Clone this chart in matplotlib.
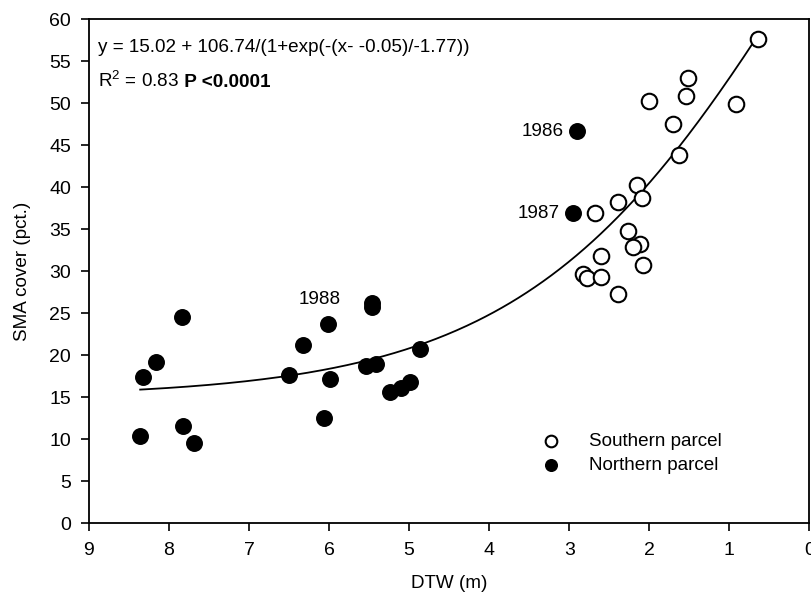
import numpy as np
import matplotlib
matplotlib.use("Agg")
import matplotlib.pyplot as plt

plt.rcParams['font.family'] = ['Liberation Sans', 'DejaVu Sans']
plt.rcParams['mathtext.fontset'] = 'custom'
plt.rcParams['mathtext.rm'] = 'Liberation Sans'
plt.rcParams['mathtext.it'] = 'Liberation Sans:italic'
plt.rcParams['mathtext.bf'] = 'Liberation Sans:bold'

# Southern parcel (open circles)
south_x = [0.64, 1.52, 1.54, 2.00, 0.92, 1.70, 1.63, 2.15, 2.09, 2.39, 2.68,
           2.26, 2.12, 2.20, 2.08, 2.60, 2.83, 2.78, 2.60, 2.39]
south_y = [57.7, 53.0, 50.9, 50.3, 49.9, 47.5, 43.8, 40.3, 38.7, 38.3, 36.9,
           34.8, 33.3, 32.9, 30.8, 31.8, 29.7, 29.2, 29.3, 27.3]

# Northern parcel (filled circles)
north_x = [8.32, 8.16, 8.36, 7.84, 7.82, 7.69, 6.50, 6.32, 6.02, 5.99, 6.07,
           5.47, 5.47, 5.54, 5.41, 5.24, 5.10, 4.99, 4.86, 2.90, 2.95]
north_y = [17.4, 19.2, 10.4, 24.6, 11.6, 9.6, 17.7, 21.3, 23.8, 17.2, 12.5,
           26.2, 25.8, 18.8, 19.0, 15.7, 16.1, 16.8, 20.8, 46.7, 36.9]

# Year annotations
year_labels = ["1986", "1987", "1988"]
year_x = [2.90, 2.95, 6.02]
year_y = [46.7, 36.9, 23.8]

# Fitted sigmoid parameters (from equation in chart)
fit_y0, fit_a, fit_x0, fit_b = 15.02, 106.74, -0.05, -1.77
fit_xmin, fit_xmax = 0.64, 8.36

fig = plt.figure(figsize=(8.11, 6.04), dpi=100)
ax = fig.add_axes([0.1097, 0.1333, 0.8883, 0.8347])

xc = np.linspace(fit_xmin, fit_xmax, 300)
yc = fit_y0 + fit_a / (1 + np.exp(-(xc - fit_x0) / fit_b))
ax.plot(xc, yc, color='black', lw=1.3, zorder=2)

ax.scatter(south_x, south_y, s=125, facecolors='white', edgecolors='black',
           linewidths=1.5, zorder=3, label='Southern parcel')
ax.scatter(north_x, north_y, s=125, facecolors='black', edgecolors='black',
           linewidths=1.0, zorder=3, label='Northern parcel')

fs = 13.6
# annotations
ax.text(year_x[0] + 0.17, year_y[0], year_labels[0], ha='right', va='center', fontsize=fs)
ax.text(year_x[1] + 0.17, year_y[1], year_labels[1], ha='right', va='center', fontsize=fs)
ax.text(year_x[2] + 0.1, year_y[2] + 2.8, year_labels[2], ha='center', va='center', fontsize=fs)

ax.text(0.012, 0.945, "y = 15.02 + 106.74/(1+exp(-(x- -0.05)/-1.77))",
        transform=ax.transAxes, fontsize=fs, va='center', ha='left')
t1 = ax.text(0.012, 0.878, r"R$^{\mathregular{2}}$ = 0.83", transform=ax.transAxes,
             fontsize=fs, va='center', ha='left')
ax.annotate(" P <0.0001", xy=(1.0, 0.0), xycoords=t1, va='bottom', ha='left',
            fontsize=fs, fontweight='bold')

ax.set_xlim(9, 0)
ax.set_ylim(0, 60)
ax.set_xticks(np.arange(9, -1, -1))
ax.set_yticks(np.arange(0, 61, 5))
ax.tick_params(direction='out', length=6, width=1.2, labelsize=14, pad=7)
for sp in ax.spines.values():
    sp.set_linewidth(1.3)

ax.set_xlabel("DTW (m)", fontsize=fs, labelpad=12)
ax.set_ylabel("SMA cover (pct.)", fontsize=fs, labelpad=13)

leg = ax.legend(loc='upper left', bbox_to_anchor=(0.605, 0.195), frameon=False,
                fontsize=fs, handletextpad=1.0, labelspacing=0.35,
                markerscale=0.75, borderaxespad=0)

fig.savefig("out.png", dpi=100)
